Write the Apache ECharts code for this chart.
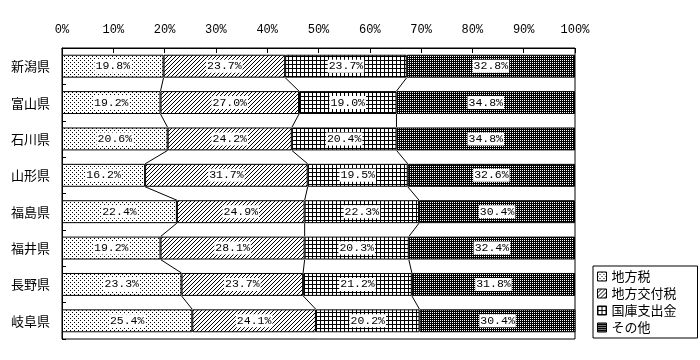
<!DOCTYPE html>
<html><head><meta charset="utf-8">
<script src="https://cdn.jsdelivr.net/npm/echarts@6/dist/echarts.min.js"></script>
<style>html,body{margin:0;padding:0;background:#fff}#c{width:700px;height:360px}</style>
</head><body><div id="c"></div>
<script>
const categories = ['新潟県','富山県','石川県','山形県','福島県','福井県','長野県','岐阜県'];
const seriesNames = ['地方税','地方交付税','国庫支出金','その他'];
const chihouzei = [19.8,19.2,20.6,16.2,22.4,19.2,23.3,25.4];
const koufuzei  = [23.7,27.0,24.2,31.7,24.9,28.1,23.7,24.1];
const kokko     = [23.7,19.0,20.4,19.5,22.3,20.3,21.2,20.2];
const sonota    = [32.8,34.8,34.8,32.6,30.4,32.4,31.8,30.4];
const xTicks = [0,10,20,30,40,50,60,70,80,90,100];

function pat(w,h,bg,fg,pixels){
  const c=document.createElement('canvas');c.width=w;c.height=h;
  const ctx=c.getContext('2d');ctx.fillStyle=bg;ctx.fillRect(0,0,w,h);
  ctx.fillStyle=fg;pixels.forEach(p=>ctx.fillRect(p[0],p[1],1,1));
  return {image:c,repeat:'repeat'};
}
const patDots = pat(4,4,'#fff','#000',[[0,0],[2,2]]);
const patDiag = pat(4,4,'#fff','#000',[[3,0],[2,1],[1,2],[0,3]]);
const patGrid = pat(4,4,'#fff','#000',[[0,0],[1,0],[2,0],[3,0],[0,1],[0,2],[0,3]]);
const patDark = pat(2,2,'#000','#fff',[[0,0]]);
const patterns=[patDots,patDiag,patGrid,patDark];
const values=[chihouzei,koufuzei,kokko,sonota];

const cum=[[],[],[]];
for(let i=0;i<categories.length;i++){
  let s=0;for(let k=0;k<3;k++){s+=values[k][i];cum[k].push(s);}
}
const BAR_RATIO=0.63;
const barSeries=seriesNames.map((n,k)=>({
  name:n,type:'bar',stack:'total',barWidth:(BAR_RATIO*100)+'%',
  data:values[k],
  itemStyle:{color:patterns[k],borderColor:'#000',borderWidth:1},
  label:{show:true,position:'inside',formatter:p=>p.value.toFixed(1)+'%',color:'#000',
    backgroundColor:'#fff',padding:[1,1,0,1],fontFamily:'Liberation Mono',fontSize:11.5},
  z:3
}));
const connector={
  type:'custom',silent:true,z:2,
  data:categories.slice(0,-1).map((c,i)=>[0,i]),
  encode:{x:0,y:1},
  renderItem:function(params,api){
    const i=api.value(1);
    const half=api.size([0,1])[1]*BAR_RATIO/2;
    const children=[];
    for(let k=0;k<3;k++){
      const p1=api.coord([cum[k][i],i]);
      const p2=api.coord([cum[k][i+1],i+1]);
      children.push({type:'line',shape:{x1:p1[0],y1:p1[1]+half,x2:p2[0],y2:p2[1]-half},
        style:{stroke:'#000',lineWidth:1}});
    }
    return {type:'group',children:children};
  }
};
const chart=echarts.init(document.getElementById('c'),null,{renderer:'canvas'});
chart.setOption({
  animation:false,
  backgroundColor:'#fff',
  grid:{left:62,right:125,top:48,bottom:21,show:true,borderColor:'#000',borderWidth:1,backgroundColor:'transparent'},
  xAxis:{type:'value',position:'top',min:xTicks[0],max:xTicks[xTicks.length-1],interval:10,
    axisLine:{show:true,lineStyle:{color:'#000',width:1}},
    axisTick:{show:true,inside:true,length:5,lineStyle:{color:'#000'}},
    splitLine:{show:false},
    axisLabel:{formatter:'{value}%',color:'#000',fontFamily:'Liberation Mono',fontSize:12,margin:12}},
  yAxis:{type:'category',inverse:true,data:categories,
    axisLine:{show:true,lineStyle:{color:'#000'}},
    axisTick:{show:true,inside:true,length:4,lineStyle:{color:'#000'}},
    axisLabel:{color:'#000',fontFamily:'Noto Sans CJK JP',fontSize:13,margin:12}},
  legend:{data:seriesNames,orient:'vertical',left:593,top:266,borderColor:'#000',borderWidth:1,
    padding:[4,21,4,4],itemWidth:9,itemHeight:9,itemGap:4,itemTextGap:3,icon:'rect',
    itemStyle:{borderColor:'#000',borderWidth:1},
    textStyle:{color:'#000',fontSize:13,fontFamily:'Noto Sans CJK JP',lineHeight:13}},
  series:[...barSeries,connector]
});
</script></body></html>
